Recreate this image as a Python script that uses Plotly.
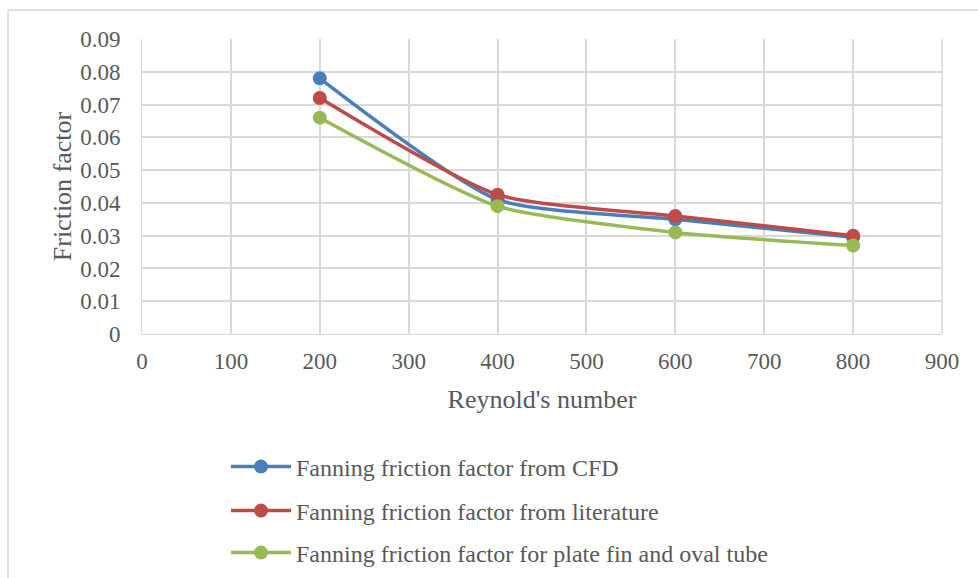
import plotly.graph_objects as go

reynolds = [200, 400, 600, 800]
f_cfd = [0.078, 0.041, 0.035, 0.0295]
f_lit = [0.072, 0.0425, 0.036, 0.030]
f_oval = [0.066, 0.039, 0.031, 0.027]

names = ["Fanning friction factor from CFD",
         "Fanning friction factor from literature",
         "Fanning friction factor for plate fin and oval tube"]
colors = ["#4a7ebb", "#be4b48", "#98b954"]
legend_ids = ["legend", "legend2", "legend3"]

fig = go.Figure()
for ys, n, c, lg in zip([f_cfd, f_lit, f_oval], names, colors, legend_ids):
    fig.add_trace(go.Scatter(x=reynolds, y=ys, name=n, mode="lines+markers", legend=lg,
                             line=dict(color=c, width=3.5, shape="spline", smoothing=0.6),
                             marker=dict(color=c, size=14)))

L, R, T, B = 142, 36, 39, 244
W, H = 978, 578
pw, ph = W - L - R, H - T - B
def px(x): return (x - L) / pw
def py(y): return (H - B - y) / ph

leg_style = dict(xanchor="left", yanchor="middle", font=dict(size=24, color="#595959"),
                 itemwidth=60, bgcolor="rgba(0,0,0,0)")

fig.update_layout(
    width=W, height=H,
    margin=dict(l=L, r=R, t=T, b=B, autoexpand=False),
    paper_bgcolor="white", plot_bgcolor="white",
    font=dict(family="Liberation Serif", color="#595959", size=23),
    showlegend=True,
    legend=dict(x=px(226), y=py(467), **leg_style),
    legend2=dict(x=px(226), y=py(511), **leg_style),
    legend3=dict(x=px(226), y=py(553), **leg_style),
    xaxis=dict(range=[0, 900], dtick=100, tick0=0, showgrid=True, gridcolor="#d9d9d9",
               gridwidth=1.5, zeroline=False, showline=True, linecolor="#d9d9d9",
               ticks="", tickfont=dict(size=23), ticklabelstandoff=6, automargin=False,
               title=dict(text="Reynold's number", font=dict(size=26), standoff=17)),
    yaxis=dict(range=[0, 0.09], dtick=0.01, tick0=0, showgrid=True, gridcolor="#d9d9d9",
               gridwidth=1.5, zeroline=False, showline=True, linecolor="#d9d9d9",
               ticks="", tickfont=dict(size=23), ticklabelstandoff=16, automargin=False,
               tickformat="~g",
               title=dict(text="Friction factor", font=dict(size=26), standoff=1)),
    shapes=[
        dict(type="line", xref="paper", yref="paper", x0=px(8), x1=px(990), y0=py(10), y1=py(10),
             line=dict(color="#d9d9d9", width=1.5)),
        dict(type="line", xref="paper", yref="paper", x0=px(8), x1=px(8), y0=py(10), y1=py(590),
             line=dict(color="#d9d9d9", width=1.5)),
        dict(type="line", xref="paper", yref="paper", x0=px(942), x1=px(942), y0=py(39), y1=py(334),
             line=dict(color="#d9d9d9", width=1.5)),
    ],
)
fig.write_html("out.html")
